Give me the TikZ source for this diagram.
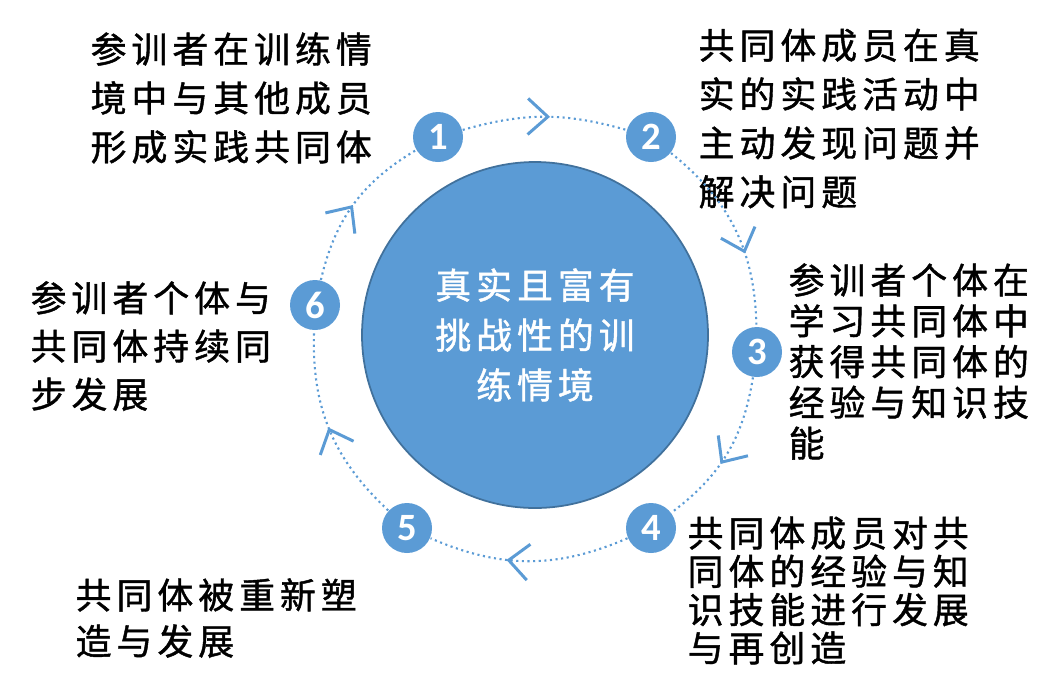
\documentclass[tikz,border=0pt]{standalone}
\usepackage{fontspec}
\newfontfamily\cjkfont[LetterSpace=14, FakeBold=1.2]{Noto Sans CJK SC}
\newfontfamily\numfont{Carlito}
\usetikzlibrary{decorations.markings}
\definecolor{ringblue}{HTML}{5B9BD5}
\definecolor{edgeblue}{HTML}{41719C}
\tikzset{
	core/.style={circle, fill=ringblue, draw=edgeblue, line width=0.5pt, minimum size=3.46cm, inner sep=0, text=white, align=center, font=\cjkfont\fontsize{10.2}{14.2}\selectfont},
	num/.style={circle, fill=ringblue, minimum size=0.5cm, inner sep=0, text=white, font=\numfont\bfseries\fontsize{11}{11}\selectfont},
	txt/.style={anchor=west, inner sep=0, align=left, font=\cjkfont\fontsize{10.2}{#1}\selectfont},
	ring/.style={draw=ringblue, line width=0.6pt, dash pattern=on 0.6pt off 1pt},
	chev/.style={postaction=decorate, decoration={markings, mark=at position #1 with {\draw[solid, draw=ringblue, line width=0.85pt] (-0.2,0.18) -- (0,0) -- (-0.2,-0.18);}}}
}
\begin{document}
\begin{tikzpicture}
		\useasboundingbox (0,0) rectangle (10.62,-6.72);
		%%%%% CENTRE %%%%%
		\node[core] (core) at (5.35,-3.35) {真实且富有\\挑战性的训\\练情境};
		
		%%%%% STEPS %%%%%
		\node[num] (n1) at (4.38,-1.37) {1};
		\node[num] (n2) at (6.51,-1.37) {2};
		\node[num] (n3) at (7.57,-3.52) {3};
		\node[num] (n4) at (6.51,-5.28) {4};
		\node[num] (n5) at (4.07,-5.28) {5};
		\node[num] (n6) at (3.15,-3.05) {6};
		
		\node[txt=13.9pt] (t1) at (0.90,-0.98) {参训者在训练情\\境中与其他成员\\形成实践共同体};
		\node[txt=13.9pt] (t2) at (6.98,-1.185) {共同体成员在真\\实的实践活动中\\主动发现问题并\\解决问题};
		\node[txt=11.6pt] (t3) at (7.88,-3.615) {参训者个体在\\学习共同体中\\获得共同体的\\经验与知识技\\能};
		\node[txt=10.9pt] (t4) at (6.87,-5.905) {共同体成员对共\\同体的经验与知\\识技能进行发展\\与再创造};
		\node[txt=13.1pt] (t5) at (0.75,-6.18) {共同体被重新塑\\造与发展};
		\node[txt=13.7pt] (t6) at (0.30,-3.46) {参训者个体与\\共同体持续同\\步发展};
		
		%%%%% RING %%%%%
		\draw[ring, chev=0.52] (n1) to[bend left=16] (n2);
		\draw[ring, chev=0.62] (n2) to[bend left=25] (n3);
		\draw[ring, chev=0.56] (n3) to[bend left=22] (n4);
		\draw[ring, chev=0.6] (n4) to[bend left=23.5] (n5);
		\draw[ring, chev=0.5] (n5) to[bend left=24.5] (n6);
		\draw[ring, chev=0.48] (n6) to[bend left=23] (n1);
	\end{tikzpicture}
\end{document}
